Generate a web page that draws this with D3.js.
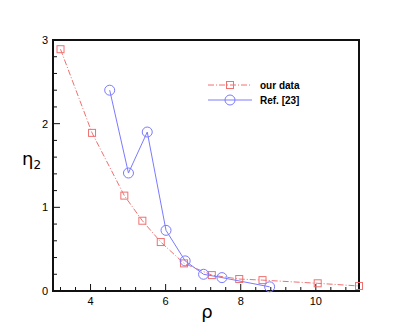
<!DOCTYPE html>
<html>
<head>
<meta charset="utf-8">
<script src="https://cdn.jsdelivr.net/npm/d3@7"></script>
<style>
  html, body { margin: 0; padding: 0; background: #fff; }
  svg { display: block; font-family: "Liberation Sans", Arial, sans-serif; }
</style>
</head>
<body>
<div id="container"></div>
<script>
// our data (red squares, dash-dot)
const ourRho = [3.2, 4.04, 4.9, 5.38, 5.87, 6.49, 7.23, 7.96, 8.58, 10.05, 11.15];
const ourEta = [2.89, 1.89, 1.14, 0.84, 0.585, 0.33, 0.19, 0.143, 0.13, 0.092, 0.06];
// Ref. [23] (blue circles, solid)
const refRho = [4.51, 5.01, 5.51, 6.01, 6.52, 7.01, 7.5, 8.77];
const refEta = [2.40, 1.41, 1.90, 0.725, 0.36, 0.20, 0.16, 0.05];
const xTicks = [4, 6, 8, 10];
const yTicks = [0, 1, 2, 3];
const seriesNames = ['our data', 'Ref. [23]'];

const width = 409, height = 328;
const margin = { top: 40, right: 50, bottom: 37, left: 53 };
const redColor = '#f07070';
const blueColor = '#7a7aff';

const svg = d3.select('#container').append('svg')
    .attr('width', width)
    .attr('height', height);

const x = d3.scaleLinear()
    .domain([3, 11.15])
    .range([margin.left, width - margin.right]);
const y = d3.scaleLinear()
    .domain([0, 3])
    .range([height - margin.bottom, margin.top]);

// minor ticks (inward)
const xMinor = d3.range(3.2, 11.15, 0.4).filter(v => Math.abs(v / 2 - Math.round(v / 2)) > 1e-6);
const yMinor = d3.range(0.2, 3, 0.2).filter(v => Math.abs(v - Math.round(v)) > 1e-6);

const gTicks = svg.append('g').attr('stroke', '#111').attr('stroke-width', 1);
gTicks.selectAll('line.xmin').data(xMinor).enter().append('line')
    .attr('x1', d => x(d)).attr('x2', d => x(d))
    .attr('y1', y(0)).attr('y2', y(0) - 4);
gTicks.selectAll('line.xmaj').data(xTicks).enter().append('line')
    .attr('x1', d => x(d)).attr('x2', d => x(d))
    .attr('y1', y(0)).attr('y2', y(0) - 7);
gTicks.selectAll('line.ymin').data(yMinor).enter().append('line')
    .attr('x1', x.range()[0]).attr('x2', x.range()[0] + 4)
    .attr('y1', d => y(d)).attr('y2', d => y(d));
gTicks.selectAll('line.ymaj').data(yTicks).enter().append('line')
    .attr('x1', x.range()[0]).attr('x2', x.range()[0] + 7)
    .attr('y1', d => y(d)).attr('y2', d => y(d));

// frame
svg.append('rect')
    .attr('x', x.range()[0]).attr('y', y.range()[1])
    .attr('width', x.range()[1] - x.range()[0])
    .attr('height', y.range()[0] - y.range()[1])
    .attr('fill', 'none')
    .attr('stroke', '#111')
    .attr('stroke-width', 2);

// tick labels
svg.append('g').selectAll('text').data(xTicks).enter().append('text')
    .attr('x', d => x(d)).attr('y', y(0) + 14)
    .attr('text-anchor', 'middle')
    .attr('font-size', 11)
    .text(d => d);
svg.append('g').selectAll('text').data(yTicks).enter().append('text')
    .attr('x', x.range()[0] - 5).attr('y', d => y(d) + 4)
    .attr('text-anchor', 'end')
    .attr('font-size', 11)
    .text(d => d);

// axis titles
svg.append('text')
    .attr('x', 207).attr('y', 318)
    .attr('text-anchor', 'middle')
    .attr('font-size', 18)
    .attr('font-family', '"DejaVu Sans", sans-serif')
    .text('ρ');
const yt = svg.append('text')
    .attr('x', 22).attr('y', 165)
    .attr('font-size', 18)
    .attr('font-family', '"DejaVu Sans", sans-serif')
    .text('η');
yt.append('tspan').attr('font-size', 12).attr('dy', 4).text('2');

const line = d3.line().x(d => x(d[0])).y(d => y(d[1]));
const ourPts = d3.zip(ourRho, ourEta);
const refPts = d3.zip(refRho, refEta);

svg.append('path')
    .attr('d', line(ourPts))
    .attr('fill', 'none')
    .attr('stroke', redColor)
    .attr('stroke-width', 1)
    .attr('stroke-dasharray', '6,2,1,2');
svg.append('g').selectAll('rect').data(ourPts).enter().append('rect')
    .attr('x', d => x(d[0]) - 3.5).attr('y', d => y(d[1]) - 3.5)
    .attr('width', 7).attr('height', 7)
    .attr('fill', 'none')
    .attr('stroke', redColor)
    .attr('stroke-width', 1);

svg.append('path')
    .attr('d', line(refPts))
    .attr('fill', 'none')
    .attr('stroke', blueColor)
    .attr('stroke-width', 1);
svg.append('g').selectAll('circle').data(refPts).enter().append('circle')
    .attr('cx', d => x(d[0])).attr('cy', d => y(d[1]))
    .attr('r', 5)
    .attr('fill', 'none')
    .attr('stroke', blueColor)
    .attr('stroke-width', 1);

// legend
const legend = svg.append('g');
const legY = [85, 100];
legend.append('line')
    .attr('x1', 208).attr('x2', 252).attr('y1', legY[0]).attr('y2', legY[0])
    .attr('stroke', redColor).attr('stroke-dasharray', '6,2,1,2');
legend.append('rect')
    .attr('x', 230 - 3.5).attr('y', legY[0] - 3.5).attr('width', 7).attr('height', 7)
    .attr('fill', 'none').attr('stroke', redColor);
legend.append('line')
    .attr('x1', 208).attr('x2', 252).attr('y1', legY[1]).attr('y2', legY[1])
    .attr('stroke', blueColor);
legend.append('circle')
    .attr('cx', 230).attr('cy', legY[1]).attr('r', 5)
    .attr('fill', 'none').attr('stroke', blueColor);
legend.selectAll('text').data(seriesNames).enter().append('text')
    .attr('x', 260).attr('y', (d, i) => legY[i] + 4)
    .attr('font-size', 10)
    .attr('font-weight', 'bold')
    .text(d => d);
</script>
</body>
</html>
